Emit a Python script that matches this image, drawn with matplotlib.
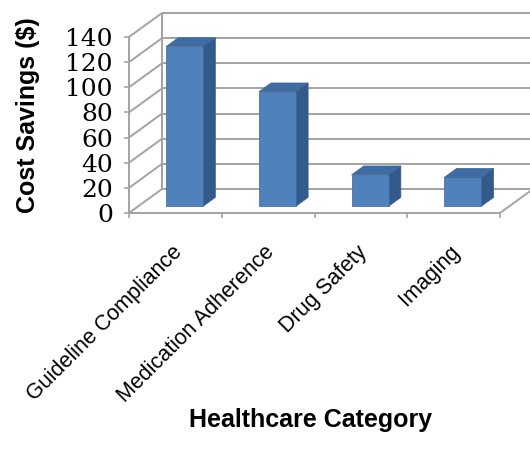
import numpy as np
import matplotlib.pyplot as plt
import matplotlib.transforms as mtransforms
from matplotlib.patches import Polygon

categories = ['Guideline Compliance', 'Medication Adherence', 'Drug Safety', 'Imaging']
savings = [127, 91, 25, 23]
y_ticks = [0, 20, 40, 60, 80, 100, 120, 140]

# fake 3d: how far the back wall sits behind the front plane (data units)
depth_x, depth_y = 0.356, 19.1
bar_w = 0.4
bar_front, bar_depth = 0.28, 0.37

grid_c = '#a3a3a3'
front_c, side_c, top_c = '#4f81bd', '#335a8a', '#3e6ca3'

fig = plt.figure(figsize=(5.3, 4.55), dpi=100)
ax = fig.add_axes([129 / 530, 1 - 213 / 455, 371 / 530, 176 / 455])
n = len(categories)
ax.set_xlim(0, n)
ax.set_ylim(0, y_ticks[-1])
ax.patch.set_visible(False)
for s in ['top', 'right']:
    ax.spines[s].set_visible(False)
for s in ['left', 'bottom']:
    ax.spines[s].set_color(grid_c)
    ax.spines[s].set_linewidth(1.4)
    ax.spines[s].set_zorder(1)

# side wall, back wall and floor
kw = dict(color=grid_c, lw=1.4, clip_on=False, zorder=1, solid_capstyle='butt')
for v in y_ticks:
    ax.plot([0, depth_x], [v, v + depth_y], **kw)
    ax.plot([depth_x, n + depth_x], [v + depth_y, v + depth_y], **kw)
ax.plot([depth_x, depth_x], [depth_y, y_ticks[-1] + depth_y], **kw)
ax.plot([n, n + depth_x], [0, depth_y], **kw)

# columns
ddx, ddy = bar_depth * depth_x, bar_depth * depth_y
for i, v in enumerate(savings):
    x0 = i + 0.5 - bar_w / 2 + bar_front * depth_x
    x1 = x0 + bar_w
    y0 = bar_front * depth_y
    front = [(x0, y0), (x1, y0), (x1, y0 + v), (x0, y0 + v)]
    side = [(x1, y0), (x1 + ddx, y0 + ddy), (x1 + ddx, y0 + ddy + v), (x1, y0 + v)]
    top = [(x0, y0 + v), (x1, y0 + v), (x1 + ddx, y0 + v + ddy), (x0 + ddx, y0 + v + ddy)]
    for pts, c in [(side, side_c), (top, top_c), (front, front_c)]:
        ax.add_patch(Polygon(pts, closed=True, fc=c, ec='#3a6496', lw=0.5,
                             clip_on=False, zorder=3))

ax.set_yticks(y_ticks)
ax.tick_params(axis='y', length=3.6, width=1.2, color=grid_c, pad=8, labelsize=18)
for lbl in ax.get_yticklabels():
    lbl.set_fontfamily('DejaVu Serif')

ax.set_xticks(np.arange(n) + 0.5)
ax.set_xticklabels(categories, rotation=45, ha='right', rotation_mode='anchor',
                   fontsize=15.5, fontfamily='Liberation Sans')
ax.set_xticks(np.arange(n + 1), minor=True)
ax.tick_params(axis='x', which='major', length=0, pad=19)
ax.tick_params(axis='x', which='minor', length=3.6, width=1.2, color=grid_c)
shift = mtransforms.ScaledTranslation(-0.04, -0.02, fig.dpi_scale_trans)
for lbl in ax.get_xticklabels():
    lbl.set_transform(lbl.get_transform() + shift)

ax.set_xlabel('Healthcare Category', fontsize=18, fontweight='bold',
              fontfamily='Liberation Sans')
ax.xaxis.set_label_coords(0.49, -1.11)
ax.set_ylabel('Cost Savings ($)', fontsize=18, fontweight='bold',
              fontfamily='Liberation Sans')
ax.yaxis.set_label_coords(-0.24, 0.557)

fig.savefig('out.png', dpi=100)
